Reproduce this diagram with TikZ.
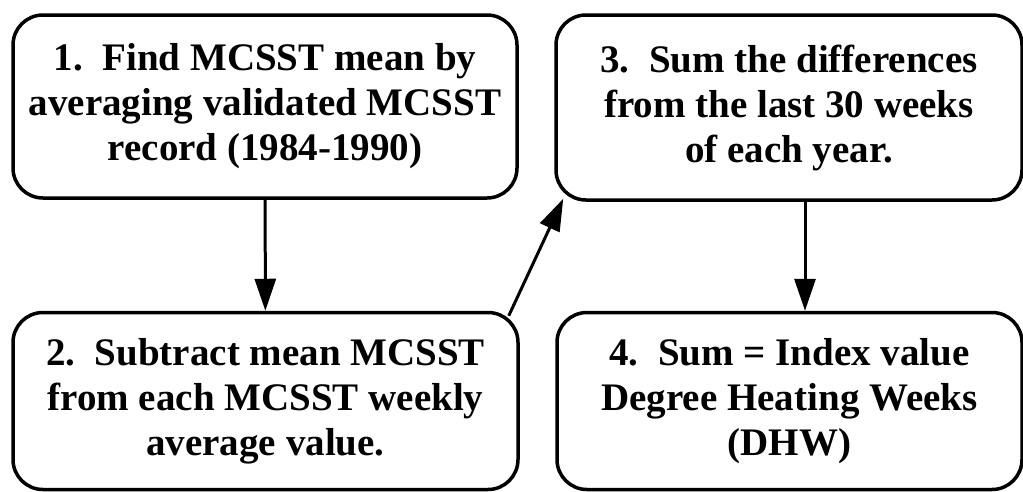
\documentclass[tikz,border=0pt]{standalone}
\usepackage{fontspec}
\setmainfont{Liberation Serif}
\usepackage{tikz}
\usetikzlibrary{arrows.meta,positioning,calc}

\begin{document}
\begin{tikzpicture}[
    x=1pt, y=-1pt,
    stepbox/.style={draw, line width=3.5pt, rounded corners=30pt, align=center,
    font=\fontsize{39}{45}\selectfont\bfseries, inner sep=0pt},
    arr/.style={-{Triangle[length=32pt,width=21pt]}, line width=3pt}
]
\useasboundingbox (0,0) rectangle (1023,491);
\node[stepbox, minimum width=504pt, minimum height=183pt] (find) at (265,106.5)
    {1.\ \ Find MCSST mean by\\averaging validated MCSST\\record (1984-1990)};
\node[stepbox, minimum width=466pt, minimum height=185pt] (sum) at (789,107.5)
    {3.\ \ Sum the differences\\from the last 30 weeks\\of each year.};
\node[stepbox, minimum width=505pt, minimum height=177pt] (subtract) at (265.5,401)
    {2.\ \ Subtract mean MCSST\\from each MCSST weekly\\average value.};
\node[stepbox, minimum width=465pt, minimum height=177pt] (index) at (789.5,401)
    {4.\ \ Sum = Index value\\Degree Heating Weeks\\(DHW)};
\draw[arr] (find) -- (subtract);
\draw[arr] ($(subtract.north east)+(-11,5)$) -- ($(sum.south west)+(9,-3)$);
\draw[arr] ([xshift=16pt]sum.south) -- ([xshift=15.5pt]index.north);
\end{tikzpicture}
\end{document}
